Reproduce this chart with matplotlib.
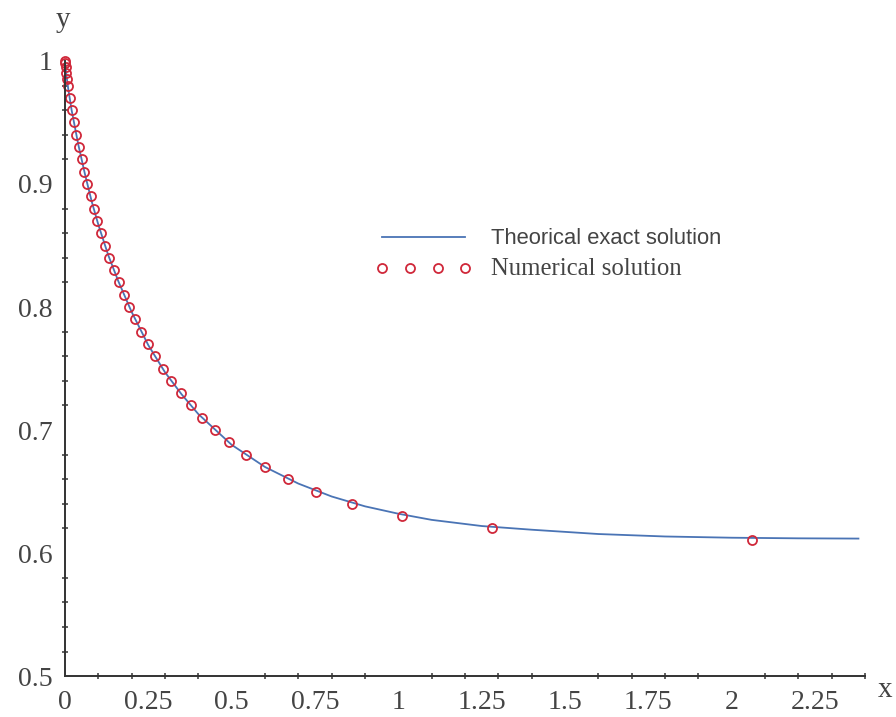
import numpy as np
import matplotlib
matplotlib.use("Agg")
import matplotlib.pyplot as plt
from matplotlib.ticker import MultipleLocator

# curve
x_exact = [0, 0.005, 0.01, 0.02, 0.04, 0.06, 0.08, 0.1, 0.13, 0.16, 0.2, 0.25,
           0.3, 0.35, 0.4, 0.5, 0.6, 0.7, 0.8, 0.9, 1.0, 1.1, 1.25, 1.4, 1.6,
           1.8, 2.0, 2.2, 2.38]
y_exact = [1.0, 0.987, 0.977, 0.960, 0.932, 0.908, 0.886, 0.867, 0.842, 0.821,
           0.796, 0.769, 0.747, 0.729, 0.713, 0.688, 0.670, 0.6565, 0.646,
           0.638, 0.632, 0.627, 0.622, 0.619, 0.6155, 0.6135, 0.6125, 0.612,
           0.6118]

# numerical solution points
x_num = [0, 0.0006, 0.0017, 0.004, 0.0065, 0.009, 0.014, 0.020, 0.027, 0.034,
         0.042, 0.050, 0.058, 0.067, 0.077, 0.087, 0.097, 0.109, 0.121, 0.133,
         0.147, 0.161, 0.176, 0.193, 0.210, 0.229, 0.249, 0.270, 0.294, 0.319,
         0.347, 0.378, 0.412, 0.450, 0.493, 0.543, 0.600, 0.670, 0.752, 0.862,
         1.01, 1.28, 2.06]
y_num = [1.00, 0.998, 0.995, 0.99, 0.985, 0.98, 0.97, 0.96, 0.95, 0.94, 0.93,
         0.92, 0.91, 0.90, 0.89, 0.88, 0.87, 0.86, 0.85, 0.84, 0.83, 0.82, 0.81,
         0.80, 0.79, 0.78, 0.77, 0.76, 0.75, 0.74, 0.73, 0.72, 0.71, 0.70, 0.69,
         0.68, 0.67, 0.66, 0.65, 0.64, 0.63, 0.62, 0.611]

x_labels = [0, 0.25, 0.5, 0.75, 1, 1.25, 1.5, 1.75, 2, 2.25]
y_labels = [0.5, 0.6, 0.7, 0.8, 0.9, 1]

fig = plt.figure(figsize=(8.96, 7.17), dpi=100)
ax = fig.add_axes([0.0725, 0.057, 0.893, 0.858])

ax.plot(x_exact, y_exact, color='#4a74b5', lw=1.3, label='Theorical exact solution')
ax.plot(x_num, y_num, ls='none', marker='o', ms=6.5, mfc='none', mec='#d0283a',
        mew=1.3, clip_on=False, label='Numerical solution')

ax.set_xlim(0, 2.4)
ax.set_ylim(0.5, 1.0)

for s in ['top', 'right']:
    ax.spines[s].set_visible(False)
for s in ['left', 'bottom']:
    ax.spines[s].set_color('#333333')
    ax.spines[s].set_linewidth(1.4)

ax.set_xticks(x_labels)
ax.set_xticklabels(['0', '0.25', '0.5', '0.75', '1', '1.25', '1.5', '1.75', '2', '2.25'])
ax.set_yticks(y_labels)
ax.set_yticklabels(['0.5', '0.6', '0.7', '0.8', '0.9', '1'])
ax.xaxis.set_minor_locator(MultipleLocator(0.1))
ax.yaxis.set_minor_locator(MultipleLocator(0.02))
ax.tick_params(which='major', length=0, labelsize=20, labelcolor='#444444')
ax.tick_params(axis='x', which='major', pad=10)
ax.tick_params(axis='y', which='major', pad=9)
ax.tick_params(which='minor', direction='inout', length=4.5, width=1.2, color='#444444')
for lab in ax.get_xticklabels() + ax.get_yticklabels():
    lab.set_fontfamily('Liberation Serif')

fig.text(885 / 896, 1 - 690 / 717, 'x', ha='center', va='center', fontsize=21,
         family='Liberation Serif', color='#444444')
fig.text(63 / 896, 1 - 20 / 717, 'y', ha='center', va='center', fontsize=21,
         family='Liberation Serif', color='#444444')

leg = ax.legend(loc='upper left', bbox_to_anchor=(0.388, 0.728), frameon=False,
                numpoints=4, handlelength=4.4, handletextpad=0.85, fontsize=15.8,
                labelspacing=0.42, borderpad=0, borderaxespad=0)
texts = leg.get_texts()
texts[0].set_fontfamily('Liberation Sans')
texts[0].set_color('#444444')
texts[1].set_fontfamily('Liberation Serif')
texts[1].set_fontsize(17.8)
texts[1].set_color('#444444')

fig.savefig('out.png', dpi=100)
